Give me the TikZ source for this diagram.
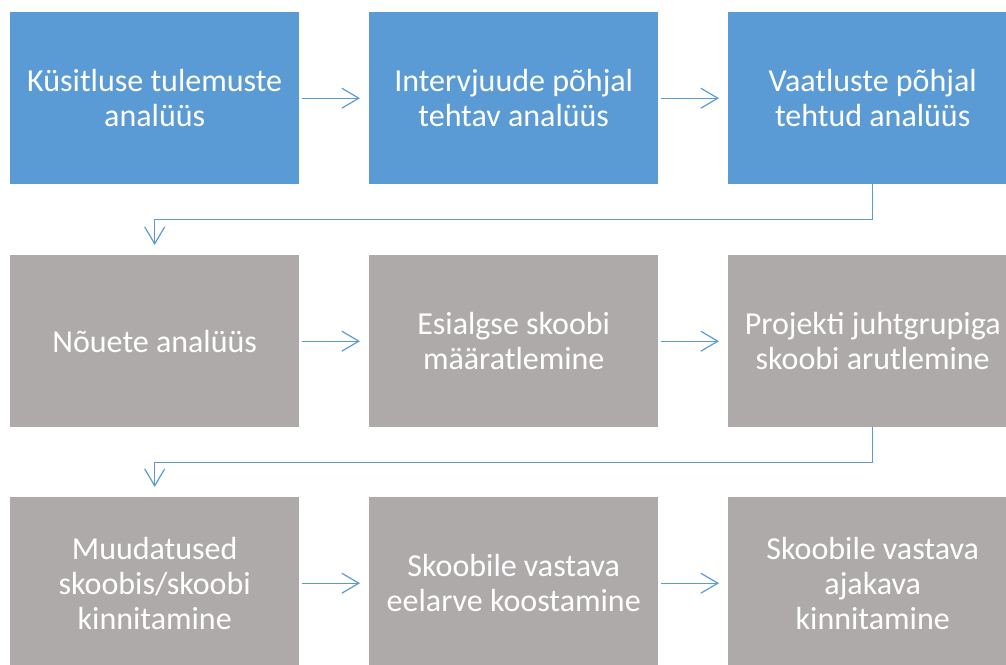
\documentclass[tikz,border=0pt]{standalone}
\usepackage{fontspec}
\setmainfont{Carlito}
\usetikzlibrary{arrows.meta}
\definecolor{boxblue}{HTML}{5B9BD5}
\definecolor{boxgrey}{HTML}{AEAAAA}
\definecolor{linkblue}{HTML}{5B9BD5}
\tikzset{
  stepbox/.style={minimum width=289pt, minimum height=172pt, inner sep=0pt, align=center,
    text=white, font=\fontsize{32}{35}\selectfont, anchor=north west},
  bluebox/.style={stepbox, fill=boxblue},
  greybox/.style={stepbox, fill=boxgrey},
  link/.style={draw=linkblue, line width=1.2pt, -{Straight Barb[length=17pt, width=20pt, line width=1.2pt]}},
}
\begin{document}
\begin{tikzpicture}[x=1pt,y=1pt]
\useasboundingbox (0,0) rectangle (1006,-664);
\begin{scope}
\clip (0,0) rectangle (1006,-664);
\node[bluebox] (b1) at (10,-12) {Küsitluse tulemuste\\analüüs};
\node[bluebox] (b2) at (369,-12) {Intervjuude põhjal\\tehtav analüüs};
\node[bluebox] (b3) at (728,-12) {Vaatluste põhjal\\tehtud analüüs};
\node[greybox] (b4) at (10,-255) {Nõuete analüüs};
\node[greybox] (b5) at (369,-255) {Esialgse skoobi\\määratlemine};
\node[greybox] (b6) at (728,-255) {Projekti juhtgrupiga\\skoobi arutlemine};
\node[greybox] (b7) at (10,-497) {Muudatused\\skoobis/skoobi\\kinnitamine};
\node[greybox] (b8) at (369,-497) {Skoobile vastava\\eelarve koostamine};
\node[greybox] (b9) at (728,-497) {Skoobile vastava\\ajakava\\kinnitamine};
\end{scope}
\draw[link, shorten <=3pt, shorten >=9pt] (b1.east) -- (b2.west);
\draw[link, shorten <=3pt, shorten >=9pt] (b2.east) -- (b3.west);
\draw[link, shorten <=3pt, shorten >=9pt] (b4.east) -- (b5.west);
\draw[link, shorten <=3pt, shorten >=9pt] (b5.east) -- (b6.west);
\draw[link, shorten <=3pt, shorten >=9pt] (b7.east) -- (b8.west);
\draw[link, shorten <=3pt, shorten >=9pt] (b8.east) -- (b9.west);
\draw[link, shorten >=10pt] (b3.south) -- ++(0,-35) -| (b4.north);
\draw[link, shorten >=10pt] (b6.south) -- ++(0,-35) -| (b7.north);
\end{tikzpicture}
\end{document}
